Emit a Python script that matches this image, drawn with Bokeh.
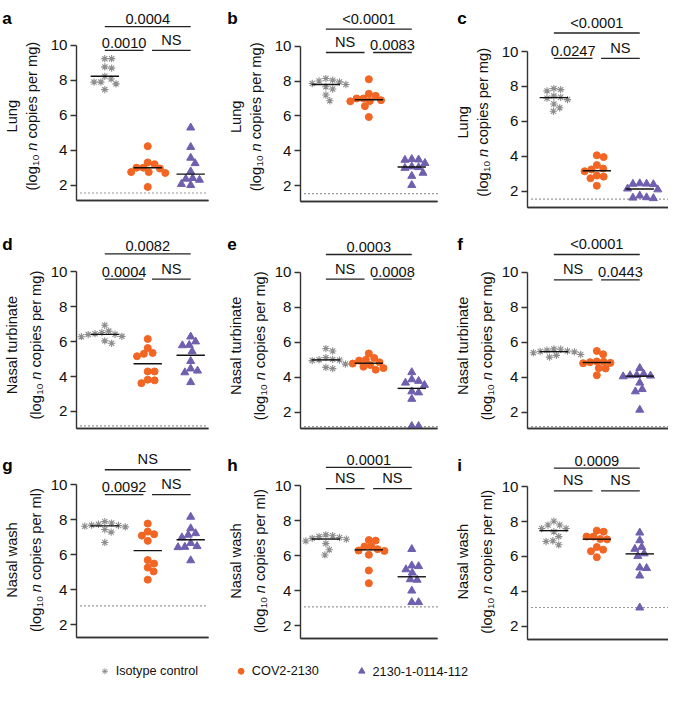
import numpy as np
from bokeh.plotting import figure
from bokeh.models import Range1d, FixedTicker, LinearAxis
from bokeh.layouts import column, row
from bokeh.embed import file_html
from bokeh.resources import INLINE
from bokeh.core.properties import value

# ---------------- data ----------------
groups = ["Isotype control", "COV2-2130", "2130-1-0114-112"]
group_x = [1, 2, 3]

a_iso = [9.24, 9.24, 8.77, 8.70, 8.23, 8.08, 7.90, 7.90, 7.80, 7.47]
a_cov = [4.23, 3.30, 3.20, 3.00, 3.00, 2.95, 2.75, 2.75, 2.70, 1.90]
a_mab = [5.29, 4.18, 3.56, 3.25, 2.78, 2.40, 2.36, 2.30, 2.06, 2.00]
a_med = [8.23, 3.00, 2.63]
a_p = ["0.0004", "0.0010", "NS"]

b_iso = [8.14, 8.05, 8.00, 7.95, 7.86, 7.80, 7.67, 7.54, 7.20, 6.87]
b_cov = [8.10, 7.27, 7.15, 7.00, 7.00, 6.90, 6.85, 6.84, 6.56, 5.94]
b_mab = [3.53, 3.50, 3.48, 3.30, 3.10, 3.06, 3.02, 2.74, 2.56, 2.04]
b_med = [7.80, 6.93, 3.08]
b_p = ["<0.0001", "NS", "0.0083"]

c_iso = [7.88, 7.82, 7.75, 7.45, 7.38, 7.33, 7.25, 7.00, 6.78, 6.58]
c_cov = [4.06, 3.96, 3.50, 3.30, 3.25, 3.15, 2.90, 2.84, 2.75, 2.32]
c_mab = [2.45, 2.43, 2.42, 2.40, 2.15, 2.10, 1.75, 1.65, 1.63, 1.60]
c_med = [7.36, 3.18, 2.13]
c_p = ["<0.0001", "0.0247", "NS"]

d_iso = [6.93, 6.60, 6.52, 6.45, 6.42, 6.40, 6.30, 6.28, 6.04, 5.90]
d_cov = [6.15, 5.63, 5.35, 5.30, 5.16, 4.29, 4.29, 3.82, 3.78, 3.62]
d_mab = [6.28, 6.00, 5.80, 5.78, 5.44, 4.88, 4.45, 4.33, 4.23, 3.67]
d_med = [6.41, 4.73, 5.22]
d_p = ["0.0082", "0.0004", "NS"]

e_iso = [5.64, 5.50, 5.12, 5.02, 5.00, 4.98, 4.95, 4.75, 4.56, 4.49]
e_cov = [5.36, 5.10, 5.00, 4.95, 4.85, 4.78, 4.70, 4.60, 4.52, 4.43]
e_mab = [4.28, 3.87, 3.78, 3.68, 3.55, 3.18, 3.12, 2.75, 1.20, 1.20]
e_med = [4.99, 4.80, 3.36]
e_p = ["0.0003", "NS", "0.0008"]

f_iso = [5.62, 5.60, 5.55, 5.50, 5.47, 5.45, 5.40, 5.30, 5.25, 5.15]
f_cov = [5.50, 5.31, 4.90, 4.88, 4.86, 4.82, 4.80, 4.52, 4.50, 4.11]
f_mab = [4.52, 4.19, 4.12, 4.10, 4.08, 4.04, 3.68, 3.31, 3.18, 2.13]
f_med = [5.46, 4.84, 4.06]
f_p = ["<0.0001", "NS", "0.0443"]

g_iso = [7.90, 7.82, 7.75, 7.70, 7.68, 7.64, 7.60, 7.45, 7.30, 6.71]
g_cov = [7.79, 7.33, 7.18, 7.10, 6.80, 5.70, 5.50, 5.27, 5.05, 4.58]
g_mab = [8.17, 7.51, 7.23, 7.14, 6.99, 6.67, 6.49, 6.45, 6.43, 5.68]
g_med = [7.66, 6.24, 6.86]
g_p = ["NS", "0.0092", "NS"]

h_iso = [7.20, 7.15, 7.10, 7.05, 7.00, 6.95, 6.85, 6.70, 6.35, 6.05]
h_cov = [6.90, 6.87, 6.53, 6.53, 6.38, 6.30, 6.28, 6.06, 5.16, 4.43]
h_mab = [6.38, 5.44, 5.40, 5.22, 5.03, 4.65, 4.62, 4.00, 3.34, 3.34]
h_med = [6.96, 6.34, 4.80]
h_p = ["0.0001", "NS", "NS"]

i_iso = [8.02, 7.80, 7.80, 7.60, 7.60, 7.42, 7.14, 6.90, 6.86, 6.67]
i_cov = [7.48, 7.42, 7.14, 7.14, 7.00, 6.98, 6.54, 6.39, 6.30, 5.96]
i_mab = [7.36, 6.92, 6.54, 6.43, 6.17, 6.02, 5.36, 5.33, 4.90, 3.07]
i_med = [7.48, 6.99, 6.15]
i_p = ["0.0009", "NS", "NS"]

row_titles = ["Lung", "Nasal turbinate", "Nasal wash"]
row_units = ["mg", "mg", "ml"]
row_lod = [1.55, 1.17, 3.08]
y_ticks = [2, 4, 6, 8, 10]

panels = [
    ("a", a_iso, a_cov, a_mab, a_med, a_p),
    ("b", b_iso, b_cov, b_mab, b_med, b_p),
    ("c", c_iso, c_cov, c_mab, c_med, c_p),
    ("d", d_iso, d_cov, d_mab, d_med, d_p),
    ("e", e_iso, e_cov, e_mab, e_med, e_p),
    ("f", f_iso, f_cov, f_mab, f_med, f_p),
    ("g", g_iso, g_cov, g_mab, g_med, g_p),
    ("h", h_iso, h_cov, h_mab, h_med, h_p),
    ("i", i_iso, i_cov, i_mab, i_med, i_p),
]

# ---------------- style / layout ----------------
S = 0.976
FONT = "Liberation Sans"
ISO_C = "#8C8C8C"
COV_C = "#F26522"
MAB_C = "#6F5FAE"
AX_C = "#333333"
TXT_C = "#111111"

PPU_Y = 17.9   # reference px per log unit
PPU_X = 44.0
PY = PPU_Y * S
PX = PPU_X * S

COL_W = [220, 224, 224]
COL_L = [76, 80, 83]
COL_F = [132, 137, 141]
COL_X0 = [0.341, 0.409, 0.386]
LETTER_DX = [-76, -75, -72]
ROW_H = [226, 224, 212]
ROW_YBOT = [1.1, 1.05, 1.25]
ROW_LETTER_BL = [18.5, 18.0, 15.0]
ROW_TITLE_C = [5.95, 5.8, 5.7]
ROW_L2_DX = [-46, -42, -42]
Y10 = {"a": 46, "b": 46.7, "c": 52.3, "d": 46.3, "e": 47, "f": 47,
       "g": 35.3, "h": 36.3, "i": 37}
BARS = {"a": (19.3, -5), "b": (17.4, -6.6), "c": (19, -7), "d": (18.3, -7.7),
        "e": (18.3, -7), "f": (18.3, -7.7), "g": (15.6, -10), "h": (19, -2.7),
        "i": (19, -4.3)}

TICK_F = 15.5
SIG_F = 15.0
TITLE_F = 15.0
LETTER_F = 17.5
LEG_F = 13.0

ARIAL = {" ": 278, "(": 333, ")": 333, "-": 333, ".": 278, "<": 584,
         "C": 722, "O": 778, "V": 667, "I": 278, "L": 556, "N": 722, "S": 667,
         "a": 556, "b": 556, "c": 500, "e": 556, "g": 556, "h": 556, "i": 222,
         "l": 222, "m": 833, "n": 556, "o": 556, "p": 556, "r": 333, "s": 500,
         "t": 278, "u": 556, "w": 722, "y": 500}


def tw(s, size):
    return sum(ARIAL.get(ch, 556) for ch in s) / 1000.0 * size


def fs(size_ref):
    return f"{size_ref * S:.2f}px"


def swarm(vals, D=7.0):
    ys = np.array(vals, dtype=float) * PPU_Y
    order = np.argsort(-ys, kind="stable")
    cands = [0.0]
    for k in range(1, 120):
        cands += [k * 0.5, -k * 0.5]
    placed = []
    offs = np.zeros(len(vals))
    for k in order:
        y = ys[k]
        chosen = 0.0
        for c in cands:
            if all((c - px) ** 2 + (y - py) ** 2 >= D * D for px, py in placed):
                chosen = c
                break
        placed.append((chosen, y))
        offs[k] = chosen / PPU_X
    return offs


def make_panel(idx):
    letter, iso, cov, mab, med, pv = panels[idx]
    r, c = divmod(idx, 3)
    ytop = 10 + Y10[letter] / PPU_Y
    fh = int(round((ytop - ROW_YBOT[r]) * PY))
    ybot = ytop - fh / PY
    x0 = COL_X0[c]
    x1 = x0 + COL_F[c] / PX
    right_b = COL_W[c] - COL_L[c] - COL_F[c]
    bottom_b = ROW_H[r] - fh
    xl = x0 - COL_L[c] / PX
    xr = x1 + right_b / PX
    yb = ybot - bottom_b / PY

    p = figure(width=COL_W[c], height=ROW_H[r],
               x_range=Range1d(xl, xr), y_range=Range1d(yb, ytop),
               x_axis_location=None, y_axis_location=None,
               min_border=0, min_border_left=0, min_border_right=0,
               min_border_top=0, min_border_bottom=0,
               output_backend="svg", toolbar_location=None)
    p.grid.visible = False
    p.outline_line_color = None
    p.background_fill_color = "white"
    p.border_fill_color = "white"

    ya = LinearAxis(fixed_location=x0, bounds=(ybot, 10),
                    ticker=FixedTicker(ticks=y_ticks))
    ya.axis_line_color = AX_C
    ya.axis_line_width = 1.4
    ya.major_tick_line_color = AX_C
    ya.major_tick_line_width = 1.4
    ya.major_tick_out = 6
    ya.major_tick_in = 0
    ya.minor_tick_line_color = None
    ya.major_label_standoff = 3
    ya.major_label_text_font = FONT
    ya.major_label_text_font_size = fs(TICK_F)
    ya.major_label_text_color = TXT_C
    p.add_layout(ya, "left")

    xa = LinearAxis(fixed_location=ybot, bounds=(x0, x1),
                    ticker=FixedTicker(ticks=[]))
    xa.axis_line_color = AX_C
    xa.axis_line_width = 1.4
    xa.major_tick_line_color = None
    xa.minor_tick_line_color = None
    xa.major_tick_out = 0
    xa.major_label_text_font_size = "0px"
    p.add_layout(xa, "below")

    # baseline of the category axis, also drawn as a line through the scales
    p.line([x0, x1], [ybot, ybot], line_color=AX_C, line_width=1.4)

    # limit of detection
    p.line([x0 + 4 / PX, x1], [row_lod[r], row_lod[r]], line_color=AX_C,
           line_width=1.2, line_dash="1 3")

    # points
    for gi, (vals, col) in enumerate(zip([iso, cov, mab], [ISO_C, COV_C, MAB_C])):
        xs = group_x[gi] + swarm(vals)
        if gi == 0:
            p.scatter(xs, vals, marker="asterisk", size=7.5 * S, line_color=col,
                      line_width=1.1)
        elif gi == 1:
            p.scatter(xs, vals, marker="circle", size=7.2 * S, fill_color=col,
                      line_color=col)
        else:
            p.scatter(xs, vals, marker="triangle", size=8.2 * S, fill_color=col,
                      line_color=col)

    # medians
    p.segment(x0=[g - 0.33 for g in group_x], y0=med,
              x1=[g + 0.33 for g in group_x], y1=med,
              line_color="#111111", line_width=1.4)

    # significance bars
    top = 10 + BARS[letter][0] / PPU_Y
    low = 10 + BARS[letter][1] / PPU_Y
    p.segment(x0=[1, 1, 2.1], y0=[top, low, low], x1=[3, 1.9, 3], y1=[top, low, low],
              line_color="#222222", line_width=1.3)
    gap = 2.5 / PPU_Y
    p.text(x=[2.0, 1.45, 2.55], y=[top + gap, low + gap, low + gap], text=pv,
           text_align="center", text_baseline="bottom",
           text_font=value(FONT), text_font_size=fs(SIG_F), text_color=TXT_C)

    # panel letter
    p.text(x=[x0 + LETTER_DX[c] / PPU_X], y=[ytop - ROW_LETTER_BL[r] / PPU_Y],
           text=[letter], text_align="left", text_baseline="alphabetic",
           text_font=value(FONT), text_font_style="bold",
           text_font_size=fs(LETTER_F), text_color="#000000")

    # y-axis title (two lines, rotated)
    F = TITLE_F
    p.text(x=[x0 - 66.5 / PPU_X], y=[ROW_TITLE_C[r]], text=[row_titles[r]],
           angle=np.pi / 2, text_align="center", text_baseline="middle",
           text_font=value(FONT), text_font_size=fs(F), text_color=TXT_C)
    xc2 = x0 + ROW_L2_DX[r] / PPU_X
    pieces = [("(log", F, "normal", 0.0, 0.0),
              ("10", 0.68 * F, "normal", 0.30 * F, 0.3),
              ("n", F, "italic", 0.0, tw(" ", F)),
              ("copies per " + row_units[r] + ")", F, "normal", 0.0, tw(" ", F))]
    pos = 0.0
    starts = []
    for txt, size, style, xs_, gap_before in pieces:
        pos += gap_before
        starts.append(pos)
        pos += tw(txt, size)
    W = pos
    for (txt, size, style, xs_, gap_before), st in zip(pieces, starts):
        p.text(x=[xc2 + xs_ / PPU_X], y=[ROW_TITLE_C[r] + (st - W / 2) / PPU_Y],
               text=[txt], angle=np.pi / 2, text_align="left",
               text_baseline="middle", text_font=value(FONT),
               text_font_style=style, text_font_size=fs(size), text_color=TXT_C)
    return p


figs = [make_panel(k) for k in range(9)]

# ---------------- legend row ----------------
LEG_H = 24
leg = figure(width=sum(COL_W), height=LEG_H,
             x_range=Range1d(0, sum(COL_W) / S), y_range=Range1d(0, LEG_H / S),
             min_border=0, min_border_left=0, min_border_right=0, min_border_top=0,
             min_border_bottom=0, output_backend="svg", toolbar_location=None)
leg.axis.visible = False
leg.grid.visible = False
leg.outline_line_color = None
leg.background_fill_alpha = 0
leg.border_fill_alpha = 0
yl = LEG_H / S - 9.0
mx = []
tx = []
xcur = 107.0
for gname in groups:
    mx.append(xcur)
    tx.append(xcur + 11)
    xcur = xcur + 11 + tw(gname, LEG_F) + 44
leg.scatter([mx[0]], [yl], marker="asterisk", size=6 * S, line_color=ISO_C, line_width=1.0)
leg.scatter([mx[1]], [yl], marker="circle", size=6 * S, fill_color=COV_C, line_color=COV_C)
leg.scatter([mx[2]], [yl], marker="triangle", size=6.5 * S, fill_color=MAB_C, line_color=MAB_C)
leg.text(x=tx, y=[yl] * 3, text=groups, text_align="left", text_baseline="middle",
         text_font=value(FONT), text_font_size=fs(LEG_F), text_color=TXT_C)

layout = column(row(*figs[0:3]), row(*figs[3:6]), row(*figs[6:9]), leg)
open("out.html", "w").write(file_html(layout, INLINE))
